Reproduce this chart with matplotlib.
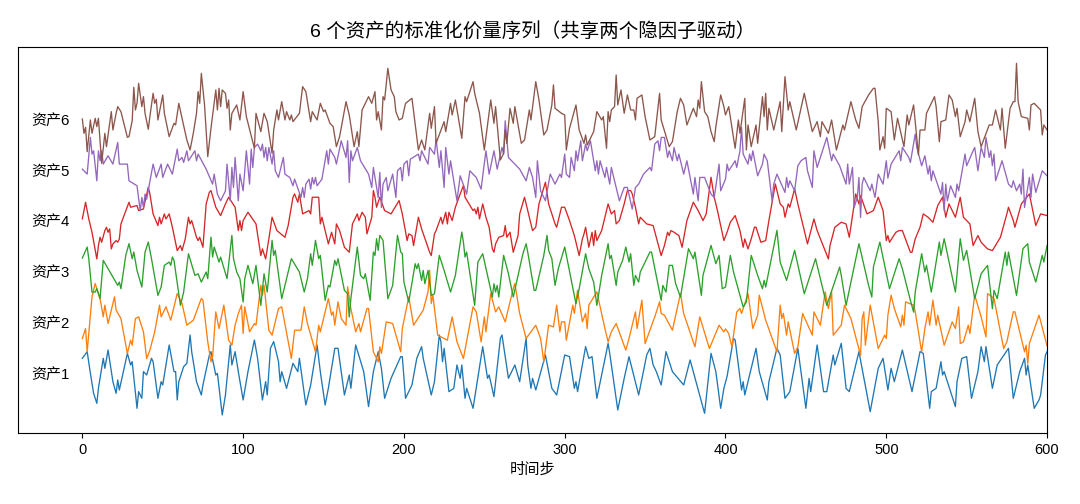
import matplotlib
matplotlib.use("Agg")
import matplotlib.pyplot as plt
import numpy as np

plt.rcParams['font.family'] = ['Liberation Sans', 'Noto Sans CJK SC', 'DejaVu Sans']

labels = ['资产1', '资产2', '资产3', '资产4', '资产5', '资产6']
title = '6 个资产的标准化价量序列（共享两个隐因子驱动）'
xlabel = '时间步'
xticks = [0, 100, 200, 300, 400, 500, 600]

# raw readings (arbitrary units, ~38 units = 1 std)
t1 = [0,3,5,7,9,10,13,14,16,19,21,22,23,28,30,31,34,35,37,38,40,43,44,47,49,50,54,57,58,59,60,63,65,67,68,71,74,75,79,80,83,84,87,89,92,93,95,97,100,
      103,107,109,112,114,115,117,119,122,123,124,127,131,134,135,139,142,146,148,151,153,157,159,163,166,167,170,175,178,181,184,186,188,192,198,
      199,201,205,208,211,212,217,219,222,223,224,225,228,231,233,235,236,238,239,243,249,252,253,256,260,261,265,269,272,276,277,279,280,282,288,292,295,300,303,
      306,307,308,313,315,317,320,327,328,333,337,340,346,351,353,355,357,360,363,367,374,378,387,391,394,397,399,
      401,405,406,410,411,412,416,419,421,426,427,432,434,437,440,445,450,452,453,457,461,463,467,468,472,475,477,483,490,495,498,501,
      503,505,510,516,521,523,527,528,531,534,535,536,543,544,547,550,553,557,559,561,562,566,569,576,579,583,586,587,588,592,595,596,599,600]
v1 = [44,64,-1,-61,-91,-46,44,14,69,-26,-61,-21,-51,59,24,34,-106,-56,-76,4,-6,44,34,-76,-26,-36,84,4,4,-81,-26,19,29,114,64,-26,-66,-36,54,64,-6,-1,-126,-66,84,24,64,4,-81,
      4,99,44,-81,-26,-66,74,94,34,-26,4,-46,29,4,44,-96,-36,84,4,-96,-46,74,74,-66,-6,-46,84,4,-101,4,64,14,-76,-16,49,
      49,-76,-36,44,79,44,-66,-26,114,94,34,74,-56,-46,24,-16,24,-76,-46,-106,79,-16,-6,-71,104,114,-16,24,-26,104,24,-46,-16,-51,54,-46,-66,54,49,
      -46,-26,-56,79,44,49,-76,89,59,-111,-16,49,-66,54,74,24,4,-36,64,4,-36,39,-121,59,4,-106,-46,
      -10,104,99,-51,-26,-66,14,74,4,-81,-26,74,54,-76,-56,74,-106,-16,-56,84,-56,-56,54,24,89,-46,-56,64,-116,14,44,-51,
      14,-26,69,-56,64,59,-106,-56,-46,34,-6,4,-101,-26,44,49,-76,4,79,34,79,-46,24,74,-76,4,44,-6,24,-106,-81,-66,54,64]

t2 = [0,2,3,6,8,11,13,14,16,20,21,24,28,30,31,33,35,38,40,42,45,48,49,52,55,59,62,65,69,74,75,78,80,81,83,85,88,91,93,95,97,99,100,
      101,104,107,108,111,112,113,116,118,122,124,130,132,136,138,140,145,147,148,153,155,156,157,159,161,164,165,167,170,172,173,177,178,181,184,185,186,189,193,198,
      199,203,206,212,215,216,217,218,221,227,230,233,237,243,245,248,250,251,254,257,259,263,268,269,272,276,282,285,287,290,293,295,297,298,
      300,301,305,306,308,311,313,314,315,320,325,327,329,332,338,340,344,345,348,350,356,359,360,362,367,372,374,381,384,390,396,399,
      400,402,404,407,409,410,414,417,420,421,425,432,434,435,436,438,439,443,445,448,454,455,459,462,464,466,467,472,474,478,484,485,486,487,490,495,499,500,
      501,503,505,509,510,511,512,517,518,522,524,526,527,529,531,532,536,541,543,545,546,548,551,552,555,559,562,563,567,573,575,579,580,586,587,588,589,595,600]
v2 = [-49,-19,-89,76,116,71,16,51,-4,76,36,11,-94,-54,-69,11,16,-29,-109,-84,-29,51,16,46,6,86,56,-9,6,71,66,-59,-119,-104,31,-19,51,-54,-69,-9,26,51,-34,
      46,-29,-4,-9,111,81,111,-24,-39,41,46,-109,-24,-24,46,-4,-89,-9,-29,71,21,31,-9,61,11,-9,106,41,-29,-4,-29,41,41,-89,-119,-74,-94,1,-4,-89,
      -19,76,-9,36,91,156,56,81,-39,-54,16,-59,-109,46,31,-59,16,-29,86,31,46,1,101,116,26,-49,-9,-49,-119,-9,-14,51,-29,1,
      1,-54,51,26,96,1,26,-19,51,91,-19,-59,-29,-4,-84,-49,31,-19,66,-64,16,61,26,21,-24,86,26,-74,16,-79,-9,-29,
      -20,-34,-74,31,41,26,86,-19,21,81,6,-89,51,11,26,-39,1,-94,-74,26,-39,31,-9,91,41,91,-39,-9,51,11,-99,11,31,-69,51,-79,-39,-49,
      21,81,41,-14,21,-9,61,51,31,-89,-19,31,-9,66,-9,21,-69,1,-19,46,-64,-59,-9,-34,81,16,-44,86,71,-79,-59,31,31,-89,-69,-124,-64,21,-71]

t3 = [0,3,4,6,8,9,11,13,16,22,23,24,27,29,31,32,34,37,39,41,43,47,49,51,54,55,56,57,61,63,66,70,72,74,77,78,80,81,82,85,86,90,93,94,96,98,100,
      101,103,106,108,111,113,115,118,119,120,124,130,135,138,140,142,143,145,147,148,151,153,154,157,158,159,163,165,166,167,171,173,175,176,179,181,182,183,184,185,187,190,193,196,198,
      199,200,203,207,208,209,211,212,213,215,217,219,222,225,229,232,236,237,238,239,244,246,249,255,256,257,258,259,262,265,268,274,276,277,281,282,287,289,290,292,294,296,
      300,307,309,313,315,318,320,323,327,328,329,332,333,336,338,340,341,343,344,346,347,353,354,360,361,363,365,367,369,372,377,380,381,385,386,391,394,396,398,
      400,403,405,411,413,416,420,423,424,425,432,434,438,443,449,456,463,471,472,475,483,489,491,492,496,
      501,502,508,510,515,517,518,522,524,525,528,533,534,536,543,546,548,550,555,559,563,566,567,569,574,575,576,581,585,588,589,593,595,597,598,600]
v3 = [40,73,38,-62,-62,-52,-82,33,8,-42,-32,-52,48,83,38,58,3,-47,58,88,38,-72,-47,18,28,18,43,33,-102,-62,53,-12,-7,-32,-2,-22,103,43,73,28,43,-22,108,38,-2,-22,-92,
      -22,18,-37,18,-102,-7,-62,93,48,63,-82,38,-2,-62,-22,53,18,93,38,48,-87,-42,-47,33,18,38,-57,-67,-137,-82,73,-12,-22,-7,-87,58,48,98,63,108,93,-82,-42,108,58,
      53,-32,-92,23,8,23,-27,3,-37,3,-72,-67,48,3,-62,-12,118,88,43,58,-102,28,53,-77,-37,-62,-42,-77,48,-7,-77,53,83,58,-57,-57,48,108,63,38,-42,8,
      73,-97,-52,53,8,-32,-102,-12,83,38,48,-42,-2,33,73,28,53,-42,-12,-32,-2,58,58,-87,-42,-62,18,18,-37,-77,68,38,58,-72,-12,78,23,48,-52,
      -47,48,-2,-107,-92,48,-12,-52,-27,-47,123,28,-27,63,-67,38,-102,13,-12,-102,83,-42,-77,13,88,
      -30,-52,38,8,-87,-122,-62,53,-2,18,-62,88,48,98,-62,98,33,63,-82,-7,18,-112,-57,-82,58,18,58,-72,68,83,28,-32,8,48,28,78]

t4 = [0,2,4,6,9,10,11,12,14,15,16,17,18,19,21,22,23,24,29,30,34,35,38,41,42,44,47,48,49,51,52,54,56,59,61,62,64,66,67,68,71,72,73,75,77,79,80,83,86,89,91,95,97,98,
      99,100,103,108,111,112,114,116,118,121,126,128,131,132,134,135,137,141,142,143,147,148,149,153,155,157,158,160,163,166,168,171,172,174,176,177,180,181,182,183,185,188,192,197,
      199,202,203,205,206,209,211,216,217,219,220,223,224,226,227,228,230,232,235,237,238,243,244,245,246,247,249,251,253,255,256,257,259,262,263,264,266,268,271,272,275,278,280,282,284,288,290,294,295,298,
      300,303,306,309,311,312,313,315,317,318,319,320,323,325,327,329,331,332,334,337,339,341,342,344,346,347,351,355,360,362,364,365,366,368,371,373,376,380,383,386,388,391,393,395,399,
      401,403,406,409,411,412,414,416,418,419,422,425,427,431,434,436,437,439,440,443,445,448,451,455,457,464,465,468,472,475,477,481,483,484,488,492,495,498,500,501,502,
      506,508,510,515,516,518,521,523,526,529,532,535,537,539,543,546,548,552,554,557,559,563,566,571,575,576,579,580,584,589,593,596,600]
v4 = [5,55,5,-35,-115,-75,-50,-65,-30,-20,-35,-25,-85,-70,-60,-65,-55,-10,55,40,45,30,35,100,80,20,-15,10,-10,20,5,20,-20,-90,-75,-90,-55,10,-10,0,-50,-60,-50,-80,50,85,90,40,15,50,70,40,-30,0,
      -30,0,25,-10,-105,-85,-115,-55,10,-30,-50,-15,70,80,55,80,20,30,20,70,70,-10,10,-70,-35,-70,-10,-30,-80,-95,-10,20,0,25,10,-40,10,90,70,40,70,30,20,60,
      20,-60,-40,-45,-75,10,-25,-95,-105,-40,-30,10,-10,25,-10,25,0,40,80,105,70,30,35,20,40,5,50,10,-20,-85,-95,-70,-50,-45,-15,-50,-35,-95,-45,20,70,10,-30,-20,50,115,50,-10,-20,40,
      40,0,-45,-105,-55,-40,-20,-80,-35,-75,-30,-60,-30,10,50,20,30,-10,0,50,90,90,80,40,-10,10,-10,-15,-105,-75,-35,-45,-30,-35,-45,-80,0,55,30,0,20,130,70,30,-60,
      -35,-5,15,-30,-80,-55,-85,-55,-20,-20,-65,-60,0,110,50,40,10,50,40,95,50,-10,-70,5,-30,-115,-75,-20,-5,-10,-50,80,50,75,20,30,70,30,-60,-45,-65,
      -35,-30,-30,-95,-95,-55,-20,20,10,-5,45,70,10,50,10,70,10,-10,-75,-45,-65,-85,-90,-50,20,40,0,-20,50,80,-15,20,15]

t5 = [0,3,5,6,7,9,10,11,12,13,16,19,22,23,28,29,34,36,37,38,39,40,44,46,49,50,53,56,59,60,62,63,65,66,70,71,72,77,81,82,84,86,89,90,92,93,94,95,97,98,
      100,102,104,105,106,107,109,111,112,113,114,115,116,118,119,120,122,125,126,129,131,132,136,137,138,139,141,142,143,144,145,146,149,152,153,154,157,158,161,164,165,166,167,168,171,173,178,180,181,184,185,186,187,189,190,193,195,196,198,
      199,200,202,203,204,209,210,211,215,216,219,220,222,223,225,226,228,229,233,235,239,241,245,248,251,253,256,258,261,262,263,265,272,276,278,280,282,283,285,288,291,294,297,298,
      300,301,303,304,306,307,308,310,311,313,314,316,319,320,321,322,325,326,328,329,334,337,339,342,344,346,349,353,354,356,358,359,360,362,364,365,367,368,370,371,374,376,380,381,383,384,387,391,393,396,397,
      400,401,402,406,407,409,410,411,414,415,416,417,420,423,424,426,429,430,432,437,438,439,440,443,445,447,450,451,454,455,457,463,466,467,471,475,476,477,479,480,482,483,484,485,486,490,491,493,495,498,500,
      501,503,508,509,510,514,515,518,519,522,524,526,527,528,529,534,535,536,537,538,540,543,544,545,549,550,554,555,557,559,561,562,564,565,566,567,568,572,576,578,579,581,583,584,585,586,589,590,591,593,597,600]
v5 = [2,-13,97,47,57,-33,57,27,57,17,42,17,82,17,17,-33,-48,-123,-83,-113,-73,-88,17,-23,17,-23,17,-13,62,27,37,22,57,27,57,27,47,2,-43,-13,-73,-93,-63,17,-93,7,-53,37,-93,-13,
      -63,57,-43,62,7,67,77,57,77,37,67,27,67,17,57,-3,-23,37,-13,-23,-48,-28,-83,-53,-83,-43,-28,-58,-23,-43,-23,-48,-28,57,17,62,37,17,87,37,87,-38,57,27,67,27,-13,-53,7,-83,-8,-113,-43,-23,-63,-13,-83,-3,7,
      -33,17,27,-18,32,47,27,57,17,67,47,92,7,57,-53,67,-13,27,-93,-18,-73,-3,-23,-58,57,-13,57,2,67,47,147,37,2,-33,7,-23,-83,27,-63,-93,-13,-43,-13,-23,
      47,-13,-23,37,-3,57,27,87,27,77,57,87,-3,27,-13,27,-23,7,-43,7,-93,-53,-53,-118,-53,-43,-13,7,-3,77,87,57,97,97,37,57,27,67,27,47,-13,27,-73,-23,-93,-23,-23,-73,-83,17,-63,
      -28,17,-3,27,7,57,127,47,17,47,27,57,-18,17,47,27,-93,-43,-13,-68,-23,-53,-33,-63,12,27,37,-3,-53,57,7,97,27,47,12,-43,17,-43,7,-113,-83,-23,-143,-43,-23,-63,-43,-83,-13,-43,27,
      -25,17,57,27,67,37,22,107,67,12,42,-13,12,-33,-3,-73,-38,-123,-43,-93,-48,-83,-43,-63,47,12,57,67,-3,67,37,97,37,57,12,47,-33,27,-43,-53,-33,-63,-43,-73,2,-113,-23,-83,-13,-68,-3,-18]

t6 = [0,1,2,3,5,6,8,9,10,12,14,15,18,19,21,22,24,28,29,31,32,33,34,35,37,38,39,41,42,44,45,46,47,50,51,54,57,58,60,62,65,67,69,71,72,73,74,76,78,80,83,84,85,86,87,89,90,91,92,93,96,98,100,
      102,107,108,111,113,115,118,119,121,122,124,126,127,129,130,131,135,137,139,142,143,146,148,150,151,154,156,158,160,164,166,169,171,172,174,178,180,182,183,184,186,187,188,190,192,194,195,197,
      199,201,205,209,211,213,216,217,219,220,225,226,229,230,232,236,238,239,243,244,247,250,252,254,256,257,260,262,263,264,266,268,269,273,275,278,279,282,284,287,289,292,293,294,298,
      300,301,303,307,309,312,313,314,318,320,323,324,326,327,328,329,331,332,333,335,337,339,341,343,344,345,348,350,353,356,359,360,365,367,370,372,374,376,380,382,383,384,385,387,389,391,393,394,397,399,
      400,402,406,408,409,412,413,414,416,419,420,423,424,425,426,427,430,434,435,437,439,440,444,449,454,457,459,460,464,466,469,473,474,478,481,483,485,489,492,493,495,496,498,499,500,
      503,505,507,511,513,514,517,520,521,524,525,530,531,533,534,537,539,541,543,544,546,549,550,552,555,557,559,564,566,568,571,572,574,577,579,580,581,582,584,588,589,590,592,594,596,597,598,600]
v6 = [0,-43,-25,-98,-3,-43,2,-23,2,-133,-43,-83,22,-33,17,37,22,-55,-53,-5,95,27,47,107,37,67,17,-31,7,77,47,59,-3,72,17,-53,-13,-18,47,2,-63,-93,-43,17,82,47,137,42,-113,-28,87,27,92,37,87,77,32,57,-33,17,42,-3,82,
      7,-88,17,-38,17,-8,-103,-33,27,-3,52,-3,22,-3,12,-8,17,97,82,-8,22,-3,47,22,27,-13,-23,-83,-53,52,12,-83,-38,-83,27,67,47,82,-3,22,-33,67,57,152,87,67,22,-3,
      2,47,62,-93,-63,-93,17,-28,37,-73,-8,-38,47,12,57,-58,67,52,112,77,17,-93,-18,57,-13,37,-123,-103,-33,-73,32,-13,37,-73,-63,27,-3,112,57,-48,-33,42,102,32,17,
      12,-93,-28,42,-33,-73,-48,-78,-38,22,-3,7,-88,22,-8,27,37,132,42,87,17,72,27,27,-3,62,72,7,-63,-53,77,-3,-83,-68,22,62,42,-18,32,7,57,32,112,22,7,-38,-68,-23,72,37,
      12,37,-88,-3,-43,62,-93,-18,-83,-18,-73,67,7,77,-33,32,-33,52,-38,127,27,52,-33,77,-38,-8,-53,-8,-43,-3,-93,-18,-33,52,-3,-28,37,72,92,92,-8,-93,-53,-88,32,
      22,-63,2,-83,12,-18,42,-108,-33,-33,17,67,37,-68,-8,-3,72,57,7,32,-53,-8,27,-8,62,-38,-83,-18,-18,27,-33,32,-88,32,52,52,167,52,7,2,-33,42,47,37,27,-48,-18,-33]

steps = [t1, t2, t3, t4, t5, t6]
values = [v1, v2, v3, v4, v5, v6]
colors = ['#1f77b4', '#ff7f0e', '#2ca02c', '#d62728', '#9467bd', '#8c564b']

SCALE = 38.1      # raw units per standard deviation
OFFSET = 4.0      # vertical spacing between assets

fig = plt.figure(figsize=(10.8, 5.04), dpi=100)
ax = fig.add_axes([0.0167, 0.1409, 0.9528, 0.7659])

for i, (t, v) in enumerate(zip(steps, values)):
    z = np.asarray(v, dtype=float) / SCALE
    ax.plot(t, z + i * OFFSET, color=colors[i], lw=0.95)
    ax.text(-32, i * OFFSET - 0.2, labels[i], ha='left', va='center', fontsize=10.8)

ax.set_xlim(-40, 600)
ax.set_ylim(-180 / SCALE, 978 / SCALE)
ax.set_yticks([])
ax.set_xticks(xticks)
ax.tick_params(axis='x', labelsize=10.5)
ax.set_xlabel(xlabel, fontsize=11)
ax.set_title(title, fontsize=14, pad=7)

fig.savefig('out.png', dpi=100)
